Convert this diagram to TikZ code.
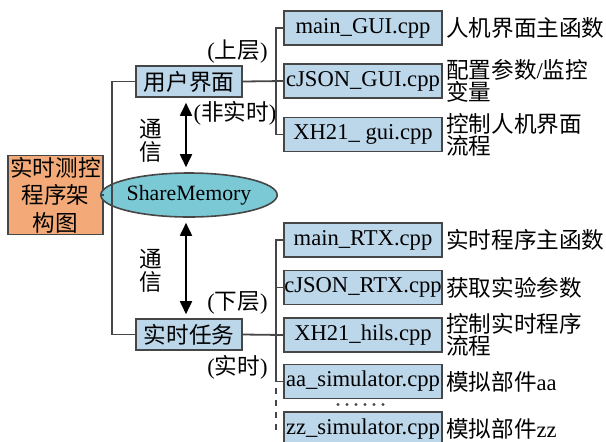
\documentclass[tikz,border=0pt]{standalone}
\usepackage{fontspec}
\setmainfont{Liberation Serif}
\newfontfamily\cjk{Noto Sans CJK SC}
\usetikzlibrary{positioning}
\usetikzlibrary{shapes,arrows.meta}
\usetikzlibrary{calc}
\definecolor{rootfill}{RGB}{243,170,120}
\definecolor{boxfill}{RGB}{188,214,234}
\definecolor{memfill}{RGB}{124,201,214}
\definecolor{linegray}{RGB}{70,70,70}

\begin{document}
\begin{tikzpicture}[x=0.5pt,y=-0.5pt,
	every node/.style={font=\fontsize{11.3}{13.5}\selectfont},
	root/.style={draw=linegray, fill=rootfill, line width=0.8pt,
		minimum width=47.5pt, minimum height=39.5pt, inner sep=0pt,
		align=center, font=\cjk\fontsize{11.3}{13.75}\selectfont},
	layer/.style={draw=linegray, fill=boxfill, line width=0.8pt,
		minimum width=53pt, minimum height=15.5pt, inner sep=0pt,
		font=\cjk\fontsize{11.3}{13.5}\selectfont},
	file/.style={draw=linegray, fill=boxfill, line width=0.8pt,
		minimum width=79pt, minimum height=17pt, inner sep=0pt},
	mem/.style={ellipse, draw=linegray, fill=memfill, line width=0.8pt,
		minimum width=68.5pt, minimum height=22pt, inner sep=0pt,
		font=\fontsize{10.9}{13}\selectfont},
	desc/.style={inner sep=0pt, align=left,
		font=\cjk\fontsize{11.3}{11}\selectfont},
	tag/.style={inner sep=0pt},
	vtag/.style={inner sep=0pt, align=center,
		font=\cjk\fontsize{11.3}{11.5}\selectfont},
	wire/.style={draw=linegray, line width=0.9pt},
	comm/.style={{Triangle[width=6pt,length=6.5pt]}-{Triangle[width=6pt,length=6.5pt]},
		line width=0.9pt, black}]
	\useasboundingbox (0,0) rectangle (606,441);
	% main blocks
	\node (root) [root] at (55.5,195) {实时测控\\程序架\\构图};
	\node (ui) [layer] at (189,81.5) {用户界面};
	\node (shm) [mem] at (189,195) {ShareMemory};
	\node (rt) [layer] at (189,334.5) {实时任务};
	% upper files
	\node (gui1) [file] at (363,28) {main\_GUI.cpp};
	\node (gui2) [file] at (363,81) {cJSON\_GUI.cpp};
	\node (gui3) [file] at (363,134.5) {XH21\_ gui.cpp};
	% lower files
	\node (rtx1) [file] at (363,240) {main\_RTX.cpp};
	\node (rtx2) [file] at (363,287.5) {cJSON\_RTX.cpp};
	\node (rtx3) [file] at (363,335) {XH21\_hils.cpp};
	\node (sim1) [file] at (363,381.5) {aa\_simulator.cpp};
	\node (sim2) [file] at (363,429) {zz\_simulator.cpp};
	\foreach \k in {0,...,5}
		\fill [linegray] (338+\k*9,404.5) circle (0.8pt);
	% descriptions
	\node (d1) [desc, right=1.5pt of gui1] {人机界面主函数};
	\node (d2) [desc, right=1.5pt of gui2] {配置参数{\rmfamily /}监控\\变量};
	\node (d3) [desc, right=1.5pt of gui3] {控制人机界面\\流程};
	\node (d4) [desc, right=1.5pt of rtx1] {实时程序主函数};
	\node (d5) [desc, right=1.5pt of rtx2] {获取实验参数};
	\node (d6) [desc, right=1.5pt of rtx3] {控制实时程序\\流程};
	\node (d7) [desc, right=1.5pt of sim1] {模拟部件{\rmfamily aa}};
	\node (d8) [desc, right=1.5pt of sim2] {模拟部件{\rmfamily zz}};
	% labels
	\node (up) [tag] at (237.5,52) {({\cjk 上层})};
	\node (nrt) [tag] at (235,113) {({\cjk 非实时})};
	\node (down) [tag] at (237.5,303) {({\cjk 下层})};
	\node (rtl) [tag] at (237.5,367) {({\cjk 实时})};
	\node (c1) [vtag] at (151,140.5) {通\\信};
	\node (c2) [vtag] at (151,271) {通\\信};
	% connectors
	\draw [wire] (root.east) -- (shm.west);
	\draw [wire] (ui.west) -- ++(-23,0) |- (rt.west);
	\draw [wire] (ui.east) -- (gui2.west);
	\draw [wire] (gui1.west) -- ++(-7,0) |- (gui3.west);
	\draw [wire] (rt.east) -- (rtx3.west);
	\draw [wire] (rtx1.west) -- ++(-7,0) |- (sim1.west);
	\draw [wire] (rtx2.west) -- ++(-7,0);
	\draw [wire, dashed] ($(sim1.west)+(-7,6)$) |- (sim2.west);
	\draw [comm] ($(ui.south)+(-3,5)$) -- ($(shm.north)+(-3,-5)$);
	\draw [comm] ($(shm.south)+(-3,5)$) -- ($(rt.north)+(-3,-4)$);
\end{tikzpicture}
\end{document}
